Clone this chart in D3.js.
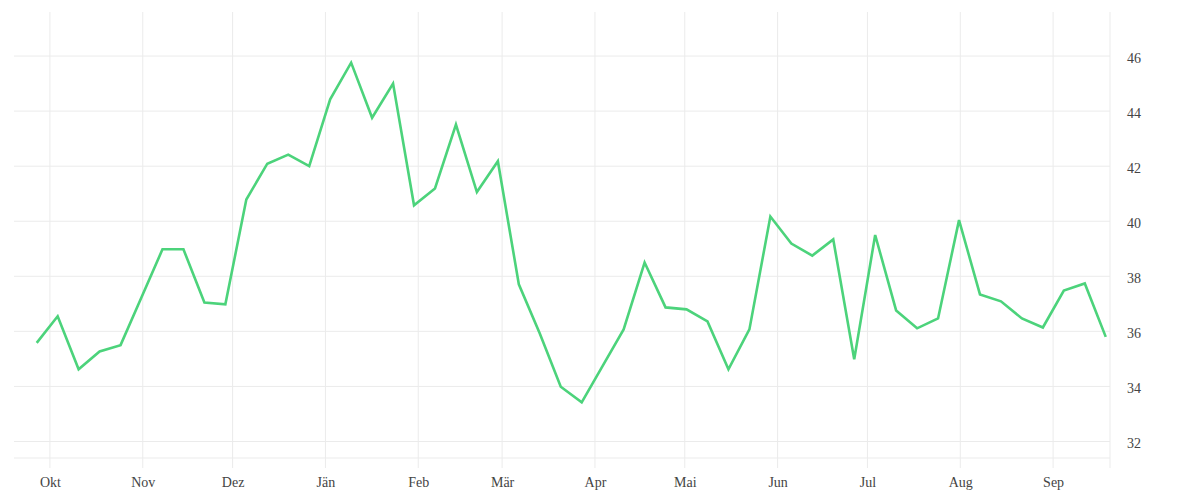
<!DOCTYPE html>
<html>
<head>
<meta charset="utf-8">
<script src="https://cdn.jsdelivr.net/npm/d3@7"></script>
<style>
  body { margin: 0; background: #fff; }
  svg text { font-family: "Liberation Serif", "DejaVu Serif", serif; fill: #444; }
</style>
</head>
<body>
<svg id="chart"></svg>
<script>
// weekly values, first week 2022-09-26
const startDate = "2022-09-26 14:00";
const values = [
  35.58, 36.55, 34.62, 35.27, 35.50, 37.24, 38.98, 38.98, 37.05, 36.98,
  40.79, 42.09, 42.42, 42.00, 44.43, 45.76, 43.76, 45.00, 40.58, 41.19,
  43.51, 41.06, 42.18, 37.71, 35.92, 33.99, 33.42, 34.75, 36.07, 38.50,
  36.87, 36.80, 36.36, 34.62, 36.07, 40.17, 39.19, 38.75, 39.34, 34.99,
  39.50, 36.76, 36.11, 36.47, 40.04, 37.34, 37.09, 36.47, 36.14, 37.48,
  37.74, 35.80
];
const monthLabels = ["Jän", "Feb", "Mär", "Apr", "Mai", "Jun", "Jul", "Aug", "Sep", "Okt", "Nov", "Dez"];
const yTicks = [32, 34, 36, 38, 40, 42, 44, 46];

const width = 1200;
const height = 500;
const plot = { left: 14, right: 1110, top: 12, bottom: 458 };

const parse = d3.timeParse("%Y-%m-%d");
const parseTime = d3.timeParse("%Y-%m-%d %H:%M");
const t0 = parseTime(startDate);
const data = values.map((v, i) => ({ date: d3.timeDay.offset(t0, i * 7), value: v }));

const svg = d3.select("#chart")
  .attr("width", width)
  .attr("height", height);

const x = d3.scaleTime()
  .domain([parse("2022-09-19"), parse("2023-09-20")])
  .range([plot.left, plot.right]);

const y = d3.scaleLinear()
  .domain([31.4, 47.6])
  .range([plot.bottom, plot.top]);

const monthTicks = d3.timeMonth.range(parse("2022-10-01"), parse("2023-09-02"));

// horizontal grid
svg.append("g")
  .selectAll("line")
  .data(yTicks)
  .enter().append("line")
  .attr("x1", plot.left)
  .attr("x2", plot.right)
  .attr("y1", d => y(d))
  .attr("y2", d => y(d))
  .attr("stroke", "#ebebeb")
  .attr("stroke-width", 1);

// vertical grid (month starts)
svg.append("g")
  .selectAll("line")
  .data(monthTicks)
  .enter().append("line")
  .attr("x1", d => x(d))
  .attr("x2", d => x(d))
  .attr("y1", plot.top)
  .attr("y2", plot.bottom + 10)
  .attr("stroke", "#ebebeb")
  .attr("stroke-width", 1);

// bottom and right border lines
svg.append("line")
  .attr("x1", plot.left).attr("x2", plot.right)
  .attr("y1", plot.bottom).attr("y2", plot.bottom)
  .attr("stroke", "#ebebeb");
svg.append("line")
  .attr("x1", plot.right).attr("x2", plot.right)
  .attr("y1", plot.top).attr("y2", plot.bottom + 10)
  .attr("stroke", "#ebebeb");

// x axis labels
const xAxis = d3.axisBottom(x)
  .tickValues(monthTicks)
  .tickFormat(d => monthLabels[d.getMonth()])
  .tickSize(0)
  .tickPadding(0);

svg.append("g")
  .attr("transform", `translate(0, ${plot.bottom + 19})`)
  .call(xAxis)
  .call(g => g.select(".domain").remove())
  .selectAll("text")
  .style("font-size", "14px");

// y axis labels on the right
const yAxis = d3.axisRight(y)
  .tickValues(yTicks)
  .tickSize(0)
  .tickPadding(0);

svg.append("g")
  .attr("transform", `translate(${plot.right + 17}, 2)`)
  .call(yAxis)
  .call(g => g.select(".domain").remove())
  .selectAll("text")
  .style("font-size", "14px");

// line
const line = d3.line()
  .x(d => x(d.date))
  .y(d => y(d.value));

svg.append("path")
  .datum(data)
  .attr("d", line)
  .attr("fill", "none")
  .attr("stroke", "#4cd37b")
  .attr("stroke-width", 2.6)
  .attr("stroke-linejoin", "miter");
</script>
</body>
</html>
